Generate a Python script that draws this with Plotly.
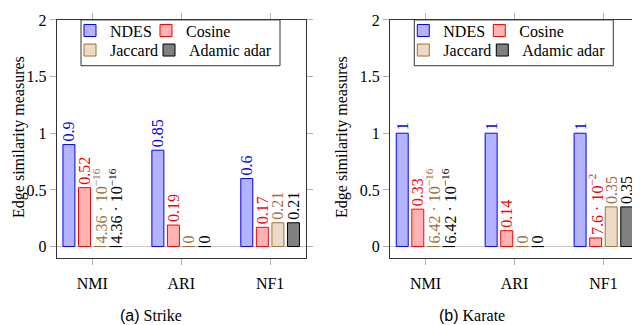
import plotly.graph_objects as go

categories = ["NMI", "ARI", "NF1"]
series_names = ["NDES", "Cosine", "Jaccard", "Adamic adar"]

# Strike
strike_ndes = [0.9, 0.85, 0.6]
strike_cosine = [0.52, 0.19, 0.17]
strike_jaccard = [4.36e-16, 0, 0.21]
strike_adamic = [4.36e-16, 0, 0.21]

# Karate
karate_ndes = [1, 1, 1]
karate_cosine = [0.33, 0.14, 7.6e-2]
karate_jaccard = [6.42e-16, 0, 0.35]
karate_adamic = [6.42e-16, 0, 0.35]

y_ticks = [0, 0.5, 1, 1.5, 2]
y_ticklabels = ["0", "0.5", "1", "1.5", "2"]

fills = ["#b3b3ff", "#ffb3b3", "#ecd9c6", "#808080"]
edges = ["#0000ff", "#ff0000", "#a0703f", "#000000"]
label_colors = ["#0000ff", "#ff0000", "#a0703f", "#000000"]

SERIF = "Liberation Serif, Times New Roman, serif"

W, H = 640, 325
OFF = 8  # the page body margin shifts the figure by this much


def px(x):
    return (x - OFF) / W


def py(y):
    return 1 - (y - OFF) / H


def fmt(v):
    # pgfplots-ish number printing
    if v == 0:
        return "0"
    if v < 0.1:
        exp = 0
        m = v
        while m < 1:
            m *= 10
            exp -= 1
        return f"{m:.3g} · 10<sup>−{-exp}</sup>"
    return f"{v:g}"


fig = go.Figure()

panels = [
    ("x", "y", [strike_ndes, strike_cosine, strike_jaccard, strike_adamic], 0),
    ("x2", "y2", [karate_ndes, karate_cosine, karate_jaccard, karate_adamic], 4),
]

for xa, ya, data, lg0 in panels:
    for i, vals in enumerate(data):
        n = lg0 + i + 1
        fig.add_trace(go.Bar(
            x=categories, y=vals, name=series_names[i],
            xaxis=xa, yaxis=ya, legend="legend" if n == 1 else f"legend{n}",
            marker=dict(color=fills[i], line=dict(color=edges[i], width=1)),
            text=[fmt(v) for v in vals], textposition="outside",
            textangle=-90, constraintext="none", cliponaxis=False,
            textfont=dict(family=SERIF, size=16, color=label_colors[i]),
            hoverinfo="skip",
        ))

top_px, bot_px = 12, 256
ydom = [py(bot_px), py(top_px)]

axis_common = dict(
    showline=True, linecolor="#333333", linewidth=1, mirror="ticks",
    ticks="outside", ticklen=6, tickcolor="#b0b0b0", tickwidth=1,
    showgrid=False, ticklabeloverflow="allow",
    tickfont=dict(family=SERIF, size=16, color="black"),
)
xaxis_common = dict(range=[-0.4, 2.4], ticklabelstandoff=5, **axis_common)
yaxis_common = dict(domain=ydom, range=[-0.1, 2.0], tickvals=y_ticks, ticktext=y_ticklabels,
                    zeroline=True, zerolinecolor="#c8c8c8", zerolinewidth=1, **axis_common)

fig.update_layout(
    width=W, height=H, margin=dict(l=0, r=0, t=0, b=0),
    paper_bgcolor="white", plot_bgcolor="white", showlegend=True,
    barmode="group", bargap=0.3, bargroupgap=0.23,
    xaxis=dict(domain=[px(56.7), px(305.7)], **xaxis_common),
    xaxis2=dict(domain=[px(390), px(639)], anchor="y2", **xaxis_common),
    yaxis=yaxis_common,
    yaxis2=dict(anchor="x2", **yaxis_common),
)

# one legend per entry so the 2x2 layout can be placed exactly
text_x = [108, 184, 108, 187]
row_y = [23, 43]
row_of = [0, 0, 1, 1]
for p, dx in ((0, 0), (1, 333.3)):
    for i in range(4):
        n = p * 4 + i + 1
        key = "legend" if n == 1 else f"legend{n}"
        fig.update_layout({key: dict(
            x=px(text_x[i] - 38 + dx), y=py(row_y[row_of[i]]),
            xanchor="left", yanchor="middle", orientation="h",
            bgcolor="rgba(0,0,0,0)", borderwidth=0, itemwidth=30,
            font=dict(family=SERIF, size=16, color="black"),
        )})

# legend boxes
for dx in (0, 333.3):
    fig.add_shape(type="rect", xref="paper", yref="paper",
                  x0=px(81 + dx), x1=px(280 + dx), y0=py(59), y1=py(top_px),
                  line=dict(color="#333333", width=1), fillcolor="white", layer="above")

# y titles and captions
fig.add_annotation(text="Edge similarity measures", xref="paper", yref="paper",
                   x=0, xanchor="left", y=py(132), yanchor="middle", textangle=-90,
                   showarrow=False, font=dict(family=SERIF, size=16, color="black"))
fig.add_annotation(text="Edge similarity measures", xref="paper", yref="paper",
                   x=px(342), xanchor="center", y=py(132), yanchor="middle", textangle=-90,
                   showarrow=False, font=dict(family=SERIF, size=16, color="black"))
for xp, tag, name in ((151, "(a)", "Strike"), (472, "(b)", "Karate")):
    fig.add_annotation(
        text=f"<span style='font-family:Liberation Sans'>{tag}</span> {name}",
        xref="paper", yref="paper", x=px(xp), xanchor="center",
        y=py(315), yanchor="middle", showarrow=False,
        font=dict(family=SERIF, size=16, color="black"))

fig.write_html("out.html")
